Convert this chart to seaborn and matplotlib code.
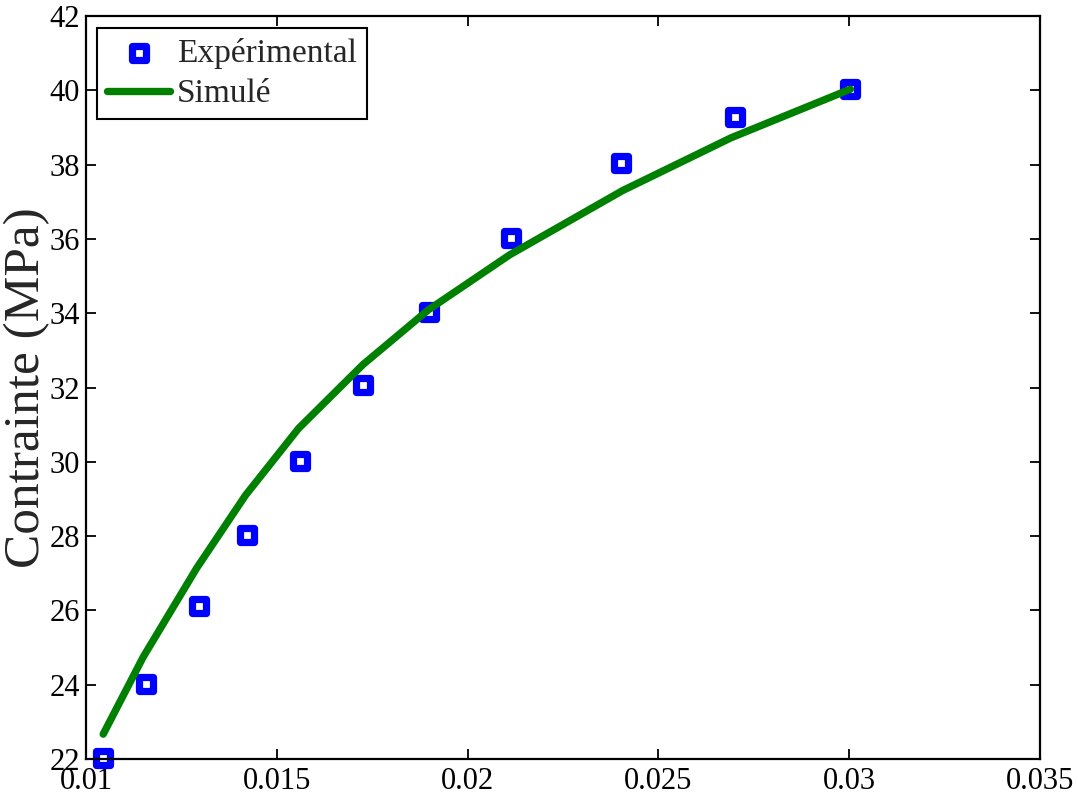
import matplotlib
matplotlib.use("Agg")
import matplotlib.pyplot as plt
import seaborn as sns
import pandas as pd

# Data
exp_x = [0.01045, 0.01158, 0.01297, 0.01421, 0.01561, 0.01726, 0.01900, 0.02113, 0.02403, 0.02700, 0.03003]
exp_y = [22.03, 24.02, 26.12, 28.03, 30.03, 32.08, 34.03, 36.03, 38.03, 39.27, 40.03]
sim_x = [0.01045, 0.01150, 0.01290, 0.01418, 0.01557, 0.01726, 0.01897, 0.02110, 0.02406, 0.02690, 0.03003]
sim_y = [22.67, 24.75, 27.14, 29.10, 30.90, 32.62, 34.09, 35.57, 37.30, 38.72, 40.03]
x_ticks = [0.01, 0.015, 0.02, 0.025, 0.03, 0.035]
x_tick_labels = ["0.01", "0.015", "0.02", "0.025", "0.03", "0.035"]
y_ticks = [22, 24, 26, 28, 30, 32, 34, 36, 38, 40, 42]
y_label = "Contrainte (MPa)"
exp_label = "Expérimental"
sim_label = "Simulé"

sns.set_theme(style="white")
plt.rcParams["font.family"] = ["Liberation Serif", "DejaVu Serif"]

fig = plt.figure(figsize=(10.78, 7.99), dpi=100)
ax = fig.add_axes([0.0798, 0.050, 0.8850, 0.930])

df_exp = pd.DataFrame({"x": exp_x, "y": exp_y})
df_sim = pd.DataFrame({"x": sim_x, "y": sim_y})

sns.scatterplot(data=df_exp, x="x", y="y", ax=ax, marker="s", s=100,
                facecolor="white", edgecolor="#0000ff", linewidth=5.2,
                label=exp_label, zorder=2, clip_on=False)
sns.lineplot(data=df_sim, x="x", y="y", ax=ax, color="#008000", linewidth=5.3,
             label=sim_label, zorder=3, sort=False)

ax.set_xlim(0.01, 0.035)
ax.set_ylim(22, 42)
ax.set_xticks(x_ticks)
ax.set_xticklabels(x_tick_labels)
ax.set_yticks(y_ticks)
ax.set_xlabel("")
ax.set_ylabel(y_label, fontsize=37, va="center")
ax.yaxis.set_label_coords(-0.062, 0.5)

ax.tick_params(axis="both", which="both", direction="in", length=7.5, width=1.3,
               top=True, right=True, bottom=True, left=True,
               labelsize=22, colors="black", pad=6)
ax.tick_params(axis="y", pad=4.5)
for sp in ax.spines.values():
    sp.set_visible(True)
    sp.set_color("black")
    sp.set_linewidth(1.6)

leg = ax.legend(loc="upper left", bbox_to_anchor=(0.0115, 0.984), borderaxespad=0,
                fontsize=24, frameon=True, fancybox=False, edgecolor="black",
                framealpha=1, handlelength=1.9, handletextpad=0.2,
                borderpad=0.3, labelspacing=0.3)
leg.get_frame().set_linewidth(1.5)

fig.savefig("out.png", dpi=100)
